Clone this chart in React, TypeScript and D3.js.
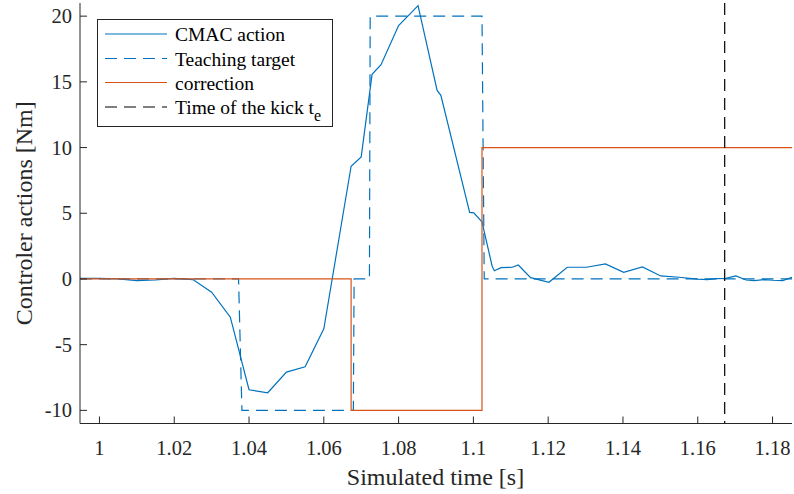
import React from "react";
import * as d3 from "d3";

const cmacT = [0.9948, 1.0, 1.005, 1.01, 1.015, 1.02, 1.025, 1.03, 1.035, 1.04, 1.045, 1.05, 1.055, 1.06, 1.0673, 1.07, 1.0729, 1.0753, 1.08, 1.0852, 1.0903, 1.0913, 1.099, 1.1001, 1.1023, 1.105, 1.1056, 1.1074, 1.1104, 1.112, 1.1153, 1.1202, 1.1251, 1.1303, 1.1353, 1.1402, 1.1452, 1.1501, 1.155, 1.1599, 1.1626, 1.165, 1.1675, 1.1702, 1.1729, 1.1751, 1.1778, 1.18, 1.1827, 1.1852];
const cmacV = [0.05, 0.05, 0.0, -0.13, -0.08, 0.05, -0.05, -1.01, -2.91, -8.43, -8.66, -7.09, -6.68, -3.8, 8.58, 9.29, 15.57, 16.3, 19.29, 20.8, 14.35, 13.97, 5.06, 5.03, 4.35, 0.99, 0.63, 0.86, 0.89, 1.06, 0.1, -0.25, 0.89, 0.89, 1.14, 0.51, 0.91, 0.23, 0.13, -0.02, -0.05, 0.02, 0.05, 0.23, -0.08, -0.13, -0.05, -0.1, -0.13, 0.13];

const targetT = [0.9948, 1.0372, 1.0381, 1.0679, 1.0681, 1.0722, 1.0724, 1.1023, 1.1029, 1.1852];
const targetV = [0, 0, -10, -10, 0, 0, 20, 20, 0, 0];

const corrT = [0.9948, 1.0673, 1.0673, 1.1023, 1.1023, 1.1852];
const corrV = [0, 0, -10, -10, 10, 10];

const kickTime = 1.1672;

const xTicks = [1, 1.02, 1.04, 1.06, 1.08, 1.1, 1.12, 1.14, 1.16, 1.18];
const yTicks = [-10, -5, 0, 5, 10, 15, 20];

const legendLabels = ["CMAC action", "Teaching target", "correction", "Time of the kick t"];

const W = 794;
const H = 494;
const L = 80;
const R = 792;
const T = 3;
const B = 423.5;

export default function App() {
  const x = d3.scaleLinear().domain([0.9948, 1.1852]).range([L, R]);
  const y = d3.scaleLinear().domain([-11, 21]).range([B, T]);
  const line = d3
    .line<[number, number]>()
    .x((d) => x(d[0]))
    .y((d) => y(d[1]));
  const zip = (a: number[], b: number[]) => a.map((t, i) => [t, b[i]] as [number, number]);

  const tf: React.CSSProperties = { fontFamily: "Liberation Serif" };
  const axisColor = "#262626";
  const blue = "#0072BD";
  const orange = "#D95319";

  const legendRowY = [34, 58.5, 82.5, 107];
  const legendStyles = [
    { stroke: blue, dash: undefined },
    { stroke: blue, dash: "12,7" },
    { stroke: orange, dash: undefined },
    { stroke: "#000", dash: "12,7" },
  ];

  return (
    <svg
      width={W}
      height={H}
      style={{ position: "absolute", left: 0, top: 0, background: "#fff" }}
    >
      <defs>
        <clipPath id="plotclip">
          <rect x={L} y={T} width={R - L} height={B - T} />
        </clipPath>
      </defs>
      <rect x={0} y={0} width={W} height={H} fill="#fff" />
      <g clipPath="url(#plotclip)" fill="none">
        <path d={line(zip(cmacT, cmacV)) || ""} stroke={blue} strokeWidth={1.2} />
        <path d={line(zip(targetT, targetV)) || ""} stroke={blue} strokeWidth={1.2} strokeDasharray="12,7" />
        <path d={line(zip(corrT, corrV)) || ""} stroke={orange} strokeWidth={1.2} />
        <line x1={x(kickTime)} x2={x(kickTime)} y1={T} y2={B} stroke="#000" strokeWidth={1.2} strokeDasharray="12,7" />
      </g>
      {/* axes */}
      <line x1={L} x2={L} y1={T} y2={B} stroke={axisColor} strokeWidth={1} />
      <line x1={L} x2={R} y1={B} y2={B} stroke={axisColor} strokeWidth={1} />
      {xTicks.map((t) => (
        <g key={"x" + t}>
          <line x1={x(t)} x2={x(t)} y1={B} y2={B - 7} stroke={axisColor} />
          <text x={x(t)} y={454.5} textAnchor="middle" fontSize={20.5} fill={axisColor} style={tf}>
            {String(+t.toFixed(2))}
          </text>
        </g>
      ))}
      {yTicks.map((v) => (
        <g key={"y" + v}>
          <line x1={L} x2={L + 7} y1={y(v)} y2={y(v)} stroke={axisColor} />
          <text x={72} y={y(v) + 7} textAnchor="end" fontSize={20.5} fill={axisColor} style={tf}>
            {String(v)}
          </text>
        </g>
      ))}
      <text x={435.5} y={485} textAnchor="middle" fontSize={24} fill={axisColor} style={tf}>
        Simulated time [s]
      </text>
      <text
        transform={`translate(32,${(T + B) / 2}) rotate(-90)`}
        textAnchor="middle"
        fontSize={24}
        fill={axisColor}
        style={tf}
      >
        Controler actions [Nm]
      </text>
      {/* legend */}
      <rect x={97.5} y={19.5} width={235} height={107} fill="#fff" stroke={axisColor} strokeWidth={1} />
      {legendLabels.map((lab, i) => (
        <g key={lab}>
          <line
            x1={105}
            x2={167}
            y1={legendRowY[i]}
            y2={legendRowY[i]}
            stroke={legendStyles[i].stroke}
            strokeWidth={1.2}
            strokeDasharray={legendStyles[i].dash}
          />
          <text x={175} y={legendRowY[i] + 7} fontSize={19.5} fill="#000" style={tf}>
            {lab}
            {i === 3 ? (
              <tspan fontSize={16} dy={7}>
                e
              </tspan>
            ) : null}
          </text>
        </g>
      ))}
    </svg>
  );
}
